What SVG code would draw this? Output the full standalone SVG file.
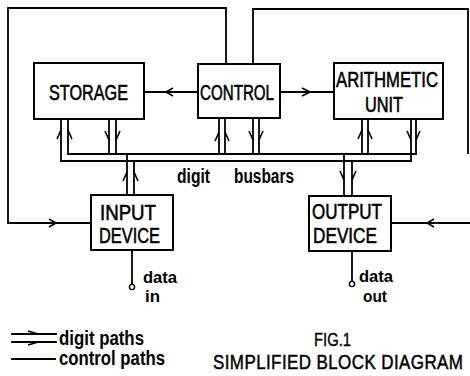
<svg xmlns="http://www.w3.org/2000/svg" width="470" height="376" viewBox="0 0 470 376">
<style>
.box{fill:#fff;stroke:#000;stroke-width:2}
.ln{fill:none;stroke:#000;stroke-width:1.8;stroke-linecap:square}
.ah{fill:none;stroke:#000;stroke-width:1.6}
.cap{font-family:"Liberation Sans",Arial,sans-serif;font-size:22px;fill:#000;stroke:#000;stroke-width:0.6}
.fig{font-family:"Liberation Sans",Arial,sans-serif;font-size:19px;fill:#000;stroke:#000;stroke-width:0.4}
.ttl{font-family:"Liberation Sans",Arial,sans-serif;font-size:17px;letter-spacing:0.4px;fill:#000;stroke:#000;stroke-width:0.4}
.low{font-family:"Liberation Sans",Arial,sans-serif;font-size:20px;fill:#000;font-weight:bold}
.sm{font-family:"Liberation Sans",Arial,sans-serif;font-size:17px;fill:#000;font-weight:bold}
</style>
<rect width="470" height="376" fill="#fff"/>
<g id="connectors">
<polyline class="ln" points="226,64 226,8 8,8 8,223 91,223"/>
<polyline class="ah" points="49,219 56,223 49,227"/>
<polyline class="ln" points="253,64 253,9 468,9 468,153"/>
<polyline class="ln" points="470,223 391,223"/>
<polyline class="ah" points="434,219 427,223 434,227"/>
<line class="ln" x1="144" y1="92" x2="198" y2="92"/>
<polyline class="ah" points="173,88 166,92 173,96"/>
<line class="ln" x1="280" y1="92" x2="334" y2="92"/>
<polyline class="ah" points="302,88 310,92 302,96"/>
<polyline class="ln" points="61,119 61,161 411,161 411,119"/>
<polyline class="ln" points="68,119 68,154 416,154 416,119"/>
<line class="ln" x1="109" y1="119" x2="109" y2="154"/>
<line class="ln" x1="116" y1="119" x2="116" y2="154"/>
<line class="ln" x1="219" y1="118" x2="219" y2="154"/>
<line class="ln" x1="225" y1="118" x2="225" y2="154"/>
<line class="ln" x1="253" y1="118" x2="253" y2="154"/>
<line class="ln" x1="259" y1="118" x2="259" y2="154"/>
<line class="ln" x1="362" y1="119" x2="362" y2="154"/>
<line class="ln" x1="368" y1="119" x2="368" y2="154"/>
<line class="ln" x1="127" y1="154" x2="127" y2="195"/>
<line class="ln" x1="134" y1="161" x2="134" y2="195"/>
<line class="ln" x1="344" y1="154" x2="344" y2="196"/>
<line class="ln" x1="352" y1="161" x2="352" y2="196"/>
<path class="ah" d="M57,139 L61,130 M68,130 L72,139"/>
<path class="ah" d="M215,141 L219,132 M225,132 L229,141"/>
<path class="ah" d="M358,139 L362,130 M368,130 L372,139"/>
<path class="ah" d="M123,181 L127,172 M134,172 L138,181"/>
<path class="ah" d="M105,131 L109,140 M116,140 L120,131"/>
<path class="ah" d="M249,131 L253,140 M259,140 L263,131"/>
<path class="ah" d="M407,131 L411,140 M416,140 L420,131"/>
<path class="ah" d="M340,171 L344,180 M352,180 L356,171"/>
<line class="ln" x1="132" y1="250" x2="132" y2="284"/>
<circle cx="132" cy="287" r="2.6" fill="#fff" stroke="#000" stroke-width="1.4"/>
<line class="ln" x1="352" y1="251" x2="352" y2="281"/>
<circle cx="352" cy="284" r="2.6" fill="#fff" stroke="#000" stroke-width="1.4"/>
</g>
<g id="storage">
<rect class="box" x="34" y="63" width="110" height="56"/>
<text class="cap" x="49" y="100" textLength="79" lengthAdjust="spacingAndGlyphs">STORAGE</text>
</g>
<g id="control">
<rect class="box" x="198" y="64" width="82" height="54"/>
<text class="cap" x="200" y="100" textLength="74" lengthAdjust="spacingAndGlyphs">CONTROL</text>
</g>
<g id="arithmetic">
<rect class="box" x="334" y="63" width="109" height="56"/>
<text class="cap" x="336" y="87" textLength="102" lengthAdjust="spacingAndGlyphs">ARITHMETIC</text>
<text class="cap" x="365" y="112" textLength="38" lengthAdjust="spacingAndGlyphs">UNIT</text>
</g>
<g id="input">
<rect class="box" x="91" y="195" width="82" height="55"/>
<text class="cap" x="100" y="220" textLength="56" lengthAdjust="spacingAndGlyphs">INPUT</text>
<text class="cap" x="99" y="243" textLength="61" lengthAdjust="spacingAndGlyphs">DEVICE</text>
</g>
<g id="output">
<rect class="box" x="309" y="196" width="82" height="55"/>
<text class="cap" x="312" y="219" textLength="70" lengthAdjust="spacingAndGlyphs">OUTPUT</text>
<text class="cap" x="313" y="243" textLength="64" lengthAdjust="spacingAndGlyphs">DEVICE</text>
</g>
<g id="labels">
<text class="low" x="177" y="183" textLength="33" lengthAdjust="spacingAndGlyphs">digit</text>
<text class="low" x="234" y="183" textLength="60" lengthAdjust="spacingAndGlyphs">busbars</text>
<text class="sm" x="143" y="283" textLength="34" lengthAdjust="spacingAndGlyphs">data</text>
<text class="sm" x="145" y="302" textLength="15" lengthAdjust="spacingAndGlyphs">in</text>
<text class="sm" x="359" y="282" textLength="34" lengthAdjust="spacingAndGlyphs">data</text>
<text class="sm" x="363" y="302" textLength="24" lengthAdjust="spacingAndGlyphs">out</text>
</g>
<g id="legend">
<line class="ln" x1="12" y1="334" x2="56" y2="334"/>
<line class="ln" x1="12" y1="342" x2="56" y2="342"/>
<path class="ah" d="M28,331 L38,334 M28,345 L38,342"/>
<line class="ln" x1="12" y1="359" x2="55" y2="359"/>
<text class="low" x="59" y="345" textLength="85" lengthAdjust="spacingAndGlyphs">digit paths</text>
<text class="low" x="59" y="365" textLength="106" lengthAdjust="spacingAndGlyphs">control paths</text>
<text class="fig" x="314" y="346" textLength="37" lengthAdjust="spacingAndGlyphs">FIG.1</text>
<text class="ttl" transform="translate(213 369) scale(1 1.2)">SIMPLIFIED BLOCK DIAGRAM</text>
</g>
</svg>
